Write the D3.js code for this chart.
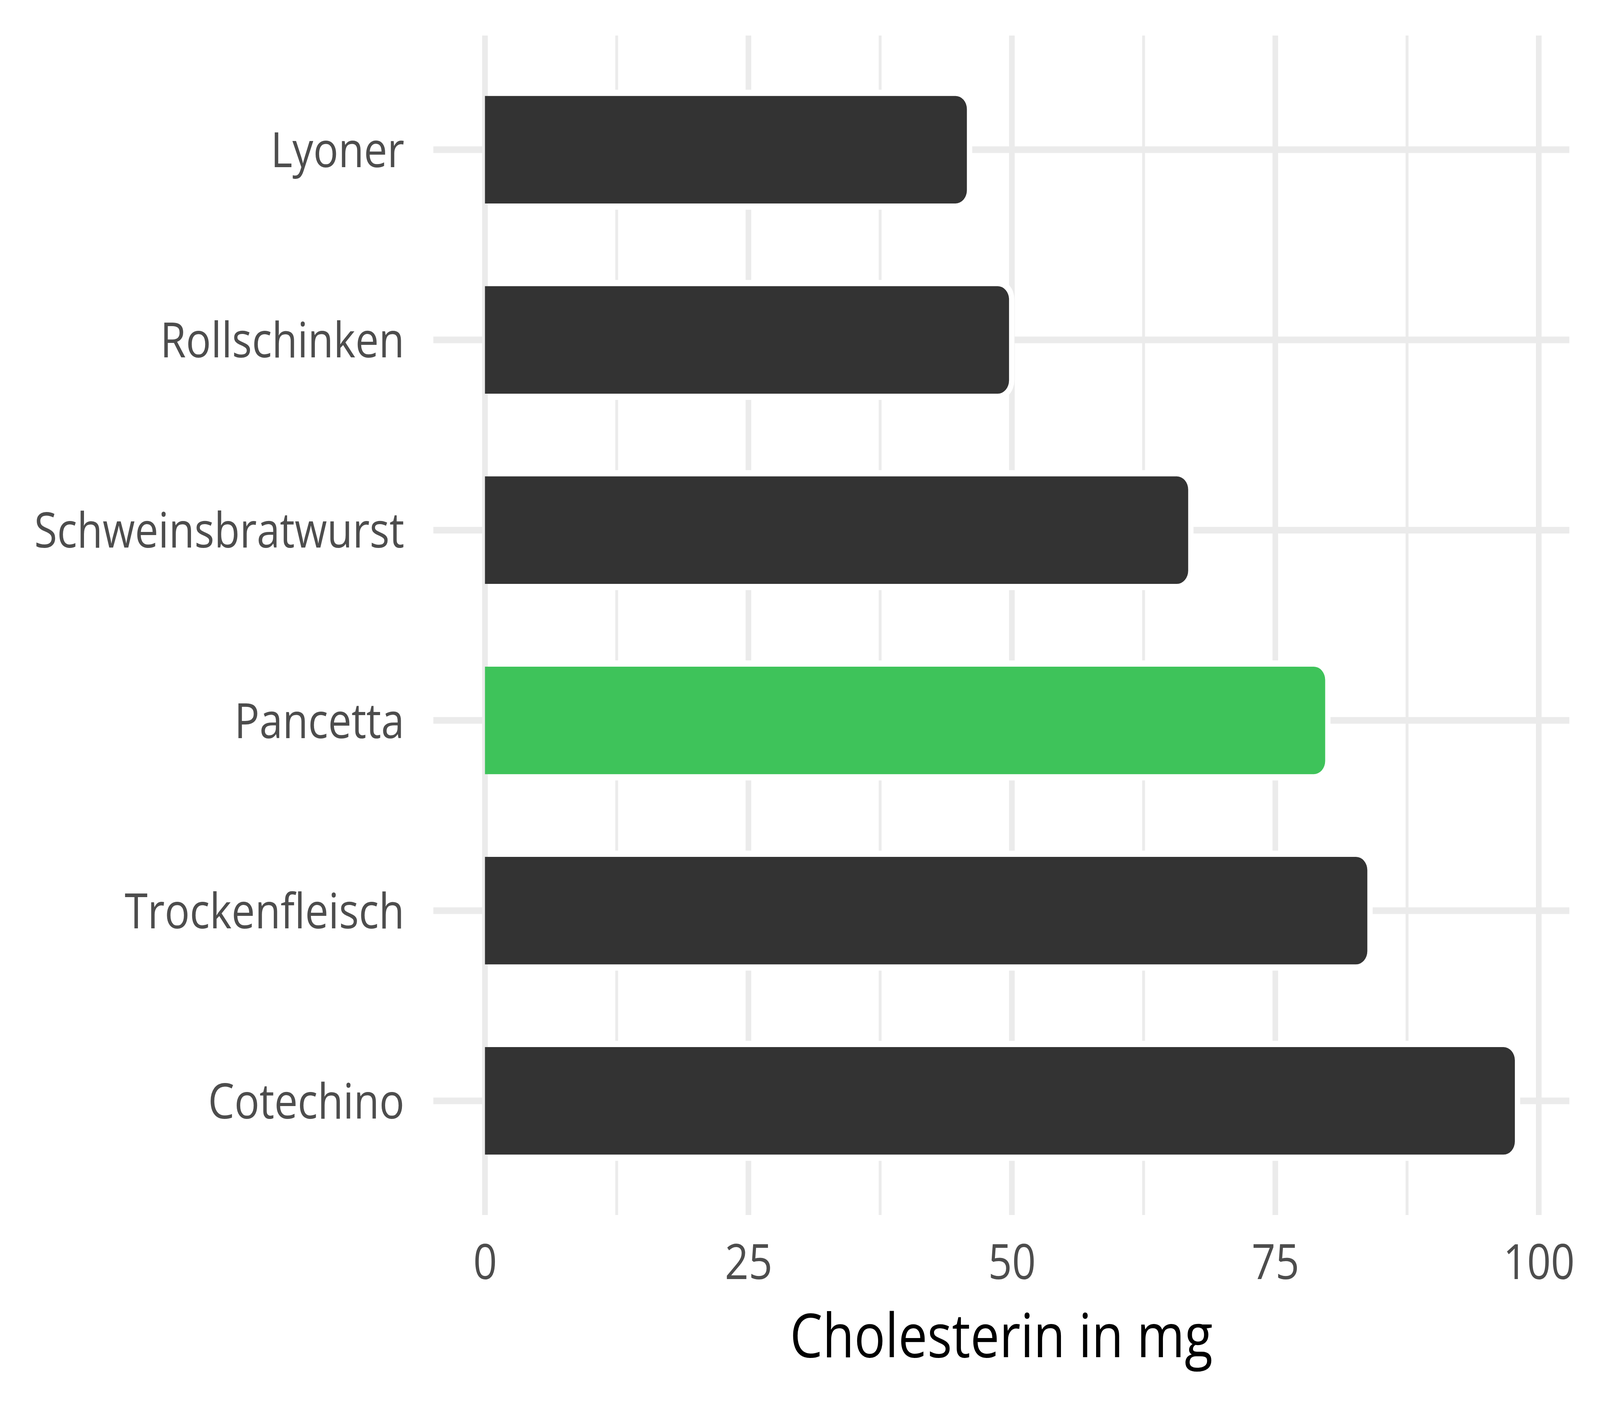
<!DOCTYPE html>
<html lang="de">
<head>
<meta charset="utf-8" />
<script src="https://cdn.jsdelivr.net/npm/d3@7"></script>
<style>
  html, body { margin: 0; padding: 0; background: #fff; overflow: hidden; }
  svg { display: block; width: 100vw; height: 100vh; }
  .tick text { font-family: "Open Sans", "Noto Sans", sans-serif; fill: #4d4d4d; }
</style>
</head>
<body>
<script>
var categories = ["Lyoner", "Rollschinken", "Schweinsbratwurst", "Pancetta", "Trockenfleisch", "Cotechino"];
var values = [46, 50, 67, 80, 84, 98];
var highlight = ["Pancetta"];
var majorTicks = [0, 25, 50, 75, 100];
var minorTicks = [12.5, 37.5, 62.5, 87.5];
var xTitle = "Cholesterin in mg";

var width = 4800, height = 3600;
var panel = { left: 1300, right: 4708, top: 91, bottom: 3111 };

// fill the whole window with the 4800x3600 drawing
var svg = d3.select("body").append("svg")
    .attr("viewBox", "0 0 " + width + " " + height)
    .attr("preserveAspectRatio", "none");

svg.append("rect").attr("width", width).attr("height", height).attr("fill", "#fff");

var x = d3.scaleLinear()
    .domain([-4.9, 102.9])
    .range([panel.left, panel.right]);

var y = d3.scaleBand()
    .domain(categories)
    .range([panel.top, panel.bottom])
    .paddingInner(0.4)
    .paddingOuter(0.3);

// grid
var grid = svg.append("g").attr("stroke", "#ebebeb").attr("fill", "none");
grid.selectAll(".minor").data(minorTicks).enter().append("line")
    .attr("x1", d => x(d)).attr("x2", d => x(d))
    .attr("y1", panel.top).attr("y2", panel.bottom)
    .attr("stroke-width", 8.5);
grid.selectAll(".major").data(majorTicks).enter().append("line")
    .attr("x1", d => x(d)).attr("x2", d => x(d))
    .attr("y1", panel.top).attr("y2", panel.bottom)
    .attr("stroke-width", 17);
grid.selectAll(".hline").data(categories).enter().append("line")
    .attr("x1", panel.left).attr("x2", panel.right)
    .attr("y1", d => y(d) + y.bandwidth() / 2).attr("y2", d => y(d) + y.bandwidth() / 2)
    .attr("stroke-width", 17);

// bar shape: square left, rounded right
function barPath(x0, x1, y0, y1, r) {
    r = Math.min(r, (y1 - y0) / 2, x1 - x0);
    return "M" + x0 + "," + y0 +
        "H" + (x1 - r) +
        "A" + r + "," + r + " 0 0 1 " + x1 + "," + (y0 + r) +
        "V" + (y1 - r) +
        "A" + r + "," + r + " 0 0 1 " + (x1 - r) + "," + y1 +
        "H" + x0 + "Z";
}

var data = categories.map((c, i) => ({ name: c, value: values[i] }));
var inset = 8.5, halo = 16;

var bars = svg.append("g");
bars.selectAll(".halo").data(data).enter().append("path")
    .attr("fill", "#fff")
    .attr("d", d => barPath(x(0) + 9, x(d.value) - inset + halo,
        y(d.name) + inset - halo, y(d.name) + y.bandwidth() - inset + halo, 34 + halo));
bars.selectAll(".bar").data(data).enter().append("path")
    .attr("fill", d => highlight.indexOf(d.name) >= 0 ? "#3ec35a" : "#333333")
    .attr("d", d => barPath(x(0), x(d.value) - inset,
        y(d.name) + inset, y(d.name) + y.bandwidth() - inset, 34));

// axes
var yAxis = svg.append("g")
    .attr("transform", "translate(" + panel.left + ",0)")
    .call(d3.axisLeft(y).tickSize(0).tickPadding(87));
yAxis.select(".domain").remove();
yAxis.selectAll("text")
    .attr("font-size", 125)
    .attr("dy", "0.36em");

var xAxis = svg.append("g")
    .attr("transform", "translate(0," + panel.bottom + ")")
    .call(d3.axisBottom(x).tickValues(majorTicks).tickSize(0));
xAxis.select(".domain").remove();
xAxis.selectAll("text")
    .attr("font-size", 125)
    .attr("y", 164)
    .attr("dy", 0);
yAxis.attr("font-family", null);
xAxis.attr("font-family", null);

svg.append("text")
    .attr("x", (panel.left + panel.right) / 2)
    .attr("y", 3475)
    .attr("text-anchor", "middle")
    .attr("font-family", "'Open Sans', 'Noto Sans', sans-serif")
    .attr("font-size", 155)
    .attr("fill", "#000")
    .text(xTitle);
</script>
</body>
</html>
